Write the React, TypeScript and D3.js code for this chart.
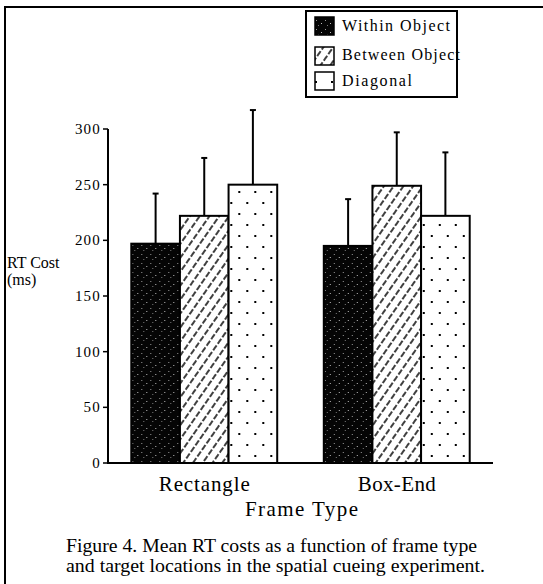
import React from "react";
import * as d3 from "d3";

const categories = ["Rectangle", "Box-End"];
const seriesNames = ["Within Object", "Between Object", "Diagonal"];
const meanRectangle = [197, 222, 250];
const meanBoxEnd = [195, 249, 222];
const errRectangle = [45, 52, 67];
const errBoxEnd = [42, 48, 57];
const yTicks = [0, 50, 100, 150, 200, 250, 300];
const captionLines = [
  "Figure 4. Mean RT costs as a function of frame type",
  "and target locations in the spatial cueing experiment.",
];

const means = [meanRectangle, meanBoxEnd];
const errs = [errRectangle, errBoxEnd];
const fills = ["url(#pWithin)", "url(#pBetween)", "url(#pDiag)"];
const FONT = "'Liberation Serif', 'Times New Roman', serif";

export default function App() {
  const W = 543;
  const H = 584;
  const y = d3.scaleLinear().domain([0, 300]).range([463, 129]);
  const x0 = d3.scaleBand<string>().domain(categories).range([108, 493]).paddingInner(0.242).paddingOuter(0.121);
  const x1 = d3.scaleBand<string>().domain(seriesNames).range([0, x0.bandwidth()]);
  const catLen = [91, 78];
  const captionLen = [411, 419];
  const legendLen = [108, 118, 70];

  return (
    <svg width={W} height={H} style={{ position: "absolute", left: 0, top: 0, background: "#fff" }}>
      <defs>
        <pattern id="pWithin" width="9" height="9" patternUnits="userSpaceOnUse">
          <rect width="9" height="9" fill="#050505" />
          <rect x="1" y="2" width="1" height="1" fill="#9a9a9a" />
          <rect x="6" y="5" width="1" height="1" fill="#bdbdbd" />
          <rect x="3" y="7" width="1" height="1" fill="#7a7a7a" />
        </pattern>
        <pattern id="pBetween" width="8" height="8" patternUnits="userSpaceOnUse" patternTransform="rotate(-55)">
          <rect width="8" height="8" fill="#fff" />
          <line x1="0" y1="4" x2="8" y2="4" stroke="#000" strokeWidth="1.5" strokeDasharray="6 2" />
        </pattern>
        <pattern id="pDiag" width="16" height="22" patternUnits="userSpaceOnUse">
          <rect width="16" height="22" fill="#fff" />
          <rect x="3" y="4" width="2" height="2" fill="#000" />
          <rect x="11" y="15" width="2" height="2" fill="#000" />
        </pattern>
      </defs>

      {/* outer frame */}
      <rect x={5} y={7} width={600} height={700} fill="none" stroke="#000" strokeWidth={2} />

      {/* bars */}
      {categories.map((c, ci) => (
        <g key={c} transform={`translate(${x0(c)},0)`}>
          {seriesNames.map((s, si) => {
            const v = means[ci][si];
            const e = errs[ci][si];
            const bx = x1(s)!;
            const bw = x1.bandwidth();
            const cx = bx + bw / 2;
            return (
              <g key={s}>
                <line x1={cx} x2={cx} y1={y(v)} y2={y(v + e)} stroke="#000" strokeWidth={2} />
                <line x1={cx - 3} x2={cx + 3} y1={y(v + e)} y2={y(v + e)} stroke="#000" strokeWidth={2} />
                <rect x={bx} y={y(v)} width={bw} height={y(0) - y(v)} fill={fills[si]} stroke="#000" strokeWidth={2} />
              </g>
            );
          })}
        </g>
      ))}

      {/* axes */}
      <line x1={108} x2={108} y1={y(300)} y2={y(0)} stroke="#000" strokeWidth={2} />
      <line x1={107} x2={493} y1={y(0)} y2={y(0)} stroke="#000" strokeWidth={2} />
      {yTicks.map((t) => (
        <g key={t}>
          <line x1={103} x2={108} y1={y(t)} y2={y(t)} stroke="#000" strokeWidth={1.5} />
          <text x={101} y={y(t) + 5} textAnchor="end" fontFamily={FONT} fontSize={15} letterSpacing={1.2}>
            {t}
          </text>
        </g>
      ))}
      <text x={7} y={268} fontFamily={FONT} fontSize={16}>RT Cost</text>
      <text x={7} y={285} fontFamily={FONT} fontSize={16}>(ms)</text>

      {categories.map((c, i) => (
        <text key={c} x={x0(c)! + x0.bandwidth() / 2 - catLen[i] / 2} y={491} fontFamily={FONT} fontSize={21}
          textLength={catLen[i]} lengthAdjust="spacing">
          {c}
        </text>
      ))}
      <text x={245} y={516} fontFamily={FONT} fontSize={21} textLength={113} lengthAdjust="spacing">Frame Type</text>

      {captionLines.map((l, i) => (
        <text key={i} x={66} y={552 + i * 19.5} fontFamily={FONT} fontSize={19} textLength={captionLen[i]} lengthAdjust="spacingAndGlyphs">
          {l}
        </text>
      ))}

      {/* legend */}
      <rect x={306} y={11} width={151} height={86} fill="#fff" />
      {seriesNames.map((s, i) => (
        <g key={s}>
          <rect x={315} y={[17, 47, 72][i]} width={19} height={18} fill={fills[i]} stroke="#000" strokeWidth={1.5} />
          <text x={342} y={[31, 60, 86][i]} fontFamily={FONT} fontSize={16} textLength={legendLen[i]} lengthAdjust="spacing">
            {s}
          </text>
        </g>
      ))}
      <rect x={306} y={11} width={151} height={86} fill="none" stroke="#000" strokeWidth={2} />
    </svg>
  );
}
